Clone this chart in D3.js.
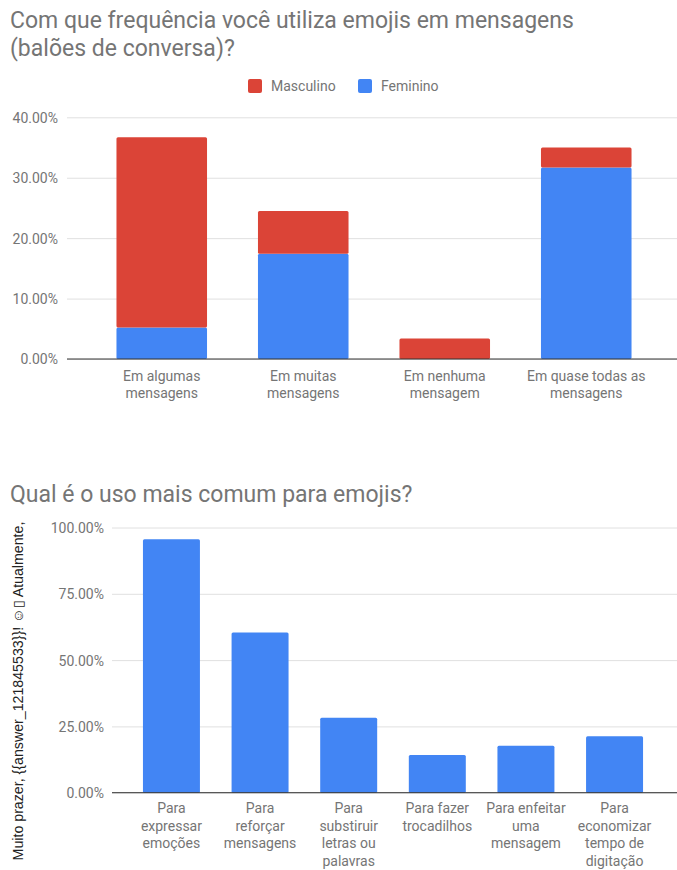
<!DOCTYPE html>
<html>
<head>
<meta charset="utf-8">
<script src="https://cdn.jsdelivr.net/npm/d3@7"></script>
<style>
  html, body { margin: 0; padding: 0; background: #fff; }
  svg { display: block; font-family: Roboto, "Noto Sans", sans-serif; }
</style>
</head>
<body>
<svg id="chart" width="677" height="870"></svg>
<script>
// ---------- Data: chart 1 ----------
const freqCategories = [["Em algumas", "mensagens"], ["Em muitas", "mensagens"], ["Em nenhuma", "mensagem"], ["Em quase todas as", "mensagens"]];
const seriesNames = ["Masculino", "Feminino"];
const masculino = [31.5, 7.1, 3.4, 3.3];
const feminino = [5.2, 17.4, 0, 31.7];
const freqTicks = [0, 10, 20, 30, 40];

// ---------- Data: chart 2 ----------
const usoCategories = [["Para", "expressar", "emoções"], ["Para", "reforçar", "mensagens"], ["Para", "substiruir", "letras ou", "palavras"], ["Para fazer", "trocadilhos"], ["Para enfeitar", "uma", "mensagem"], ["Para", "economizar", "tempo de", "digitação"]];
const usoValues = [95.6, 60.4, 28.3, 14.2, 17.7, 21.3];
const usoTicks = [0, 25, 50, 75, 100];
const usoAxisTitle = "Muito prazer, {{answer_121845533}}! \u263A\u25AF Atualmente,";

const RED = "#db4437", BLUE = "#4285f4", TXT = "#757575", GRID = "#e0e0e0", BASE = "#333333";
const fmt = v => v.toFixed(2) + "%";
const svg = d3.select("#chart");

// ================= Chart 1 =================
const g1 = svg.append("g");
g1.append("text").attr("x", 10).attr("y", 28).attr("font-size", 23).attr("fill", TXT)
  .text("Com que frequência você utiliza emojis em mensagens");
g1.append("text").attr("x", 10).attr("y", 56).attr("font-size", 23).attr("fill", TXT)
  .text("(balões de conversa)?");

// legend
const legendItems = [{name: seriesNames[0], color: RED, x: 248}, {name: seriesNames[1], color: BLUE, x: 358}];
const lg = g1.selectAll(".lg").data(legendItems).enter().append("g");
lg.append("rect").attr("x", d => d.x).attr("y", 79).attr("width", 14).attr("height", 14).attr("rx", 2).attr("fill", d => d.color);
lg.append("text").attr("x", d => d.x + 23).attr("y", 91).attr("font-size", 14).attr("fill", TXT).text(d => d.name);

const y1 = d3.scaleLinear().domain([0, 40]).range([359, 117.3]);
const x1 = d3.scaleBand().domain(d3.range(freqCategories.length)).range([91, 657]).paddingInner(0.36).paddingOuter(0.18);

// grid
const yAx1 = d3.axisLeft(y1).tickValues(freqTicks).tickFormat(fmt).tickSize(-(677 - 67)).tickPadding(9);
const ga1 = g1.append("g").attr("transform", "translate(67,0)").call(yAx1);
ga1.select(".domain").remove();
ga1.selectAll(".tick line").attr("stroke", GRID);
ga1.selectAll(".tick text").attr("font-size", 14).attr("fill", TXT).attr("font-family", "Roboto").attr("dy", "0.35em");

// stacked bars
const stackData = freqCategories.map((c, i) => ({i, Feminino: feminino[i], Masculino: masculino[i]}));
const stacked = d3.stack().keys(["Feminino", "Masculino"])(stackData);
const colorOf = {Feminino: BLUE, Masculino: RED};
stacked.forEach(layer => {
  g1.append("g").selectAll("rect").data(layer.filter(d => d[1] - d[0] > 0)).enter().append("rect")
    .attr("x", d => x1(d.data.i))
    .attr("width", x1.bandwidth())
    .attr("y", d => y1(d[1]))
    .attr("height", d => y1(d[0]) - y1(d[1]))
    .attr("rx", 1.5)
    .attr("fill", colorOf[layer.key]);
});

// baseline
g1.append("line").attr("x1", 67).attr("x2", 677).attr("y1", y1(0)).attr("y2", y1(0)).attr("stroke", BASE).attr("stroke-width", 1);

// x labels
const xl1 = g1.selectAll(".xl1").data(freqCategories).enter().append("text")
  .attr("text-anchor", "middle").attr("font-size", 14).attr("fill", TXT);
xl1.each(function(lines, i) {
  const t = d3.select(this);
  lines.forEach((ln, j) => {
    t.append("tspan").attr("x", x1(i) + x1.bandwidth() / 2).attr("y", 381 + j * 16.5).text(ln);
  });
});

// ================= Chart 2 =================
const g2 = svg.append("g");
g2.append("text").attr("x", 10).attr("y", 502).attr("font-size", 23).attr("fill", TXT)
  .text("Qual é o uso mais comum para emojis?");

const y2 = d3.scaleLinear().domain([0, 100]).range([792.7, 527.5]);
const x2 = d3.scaleBand().domain(d3.range(usoCategories.length)).range([127, 659]).paddingInner(0.357).paddingOuter(0.18);

const yAx2 = d3.axisLeft(y2).tickValues(usoTicks).tickFormat(fmt).tickSize(-(677 - 112)).tickPadding(8);
const ga2 = g2.append("g").attr("transform", "translate(112,0)").call(yAx2);
ga2.select(".domain").remove();
ga2.selectAll(".tick line").attr("stroke", GRID);
ga2.selectAll(".tick text").attr("font-size", 14).attr("fill", TXT).attr("font-family", "Roboto").attr("dy", "0.35em");

g2.append("g").selectAll("rect").data(usoValues).enter().append("rect")
  .attr("x", (d, i) => x2(i))
  .attr("width", x2.bandwidth())
  .attr("y", d => y2(d))
  .attr("height", d => y2(0) - y2(d))
  .attr("rx", 1.5)
  .attr("fill", BLUE);

g2.append("line").attr("x1", 112).attr("x2", 677).attr("y1", y2(0)).attr("y2", y2(0)).attr("stroke", BASE).attr("stroke-width", 1);

const xl2 = g2.selectAll(".xl2").data(usoCategories).enter().append("text")
  .attr("text-anchor", "middle").attr("font-size", 14).attr("fill", TXT);
xl2.each(function(lines, i) {
  const t = d3.select(this);
  lines.forEach((ln, j) => {
    t.append("tspan").attr("x", x2(i) + x2.bandwidth() / 2).attr("y", 813 + j * 17.6).text(ln);
  });
});

// vertical axis title
g2.append("text")
  .attr("transform", "translate(23,691) rotate(-90)")
  .attr("text-anchor", "middle")
  .attr("font-size", 14.2)
  .attr("font-family", "'Liberation Sans', Arial, sans-serif")
  .attr("fill", "#222")
  .text(usoAxisTitle);
</script>
</body>
</html>
